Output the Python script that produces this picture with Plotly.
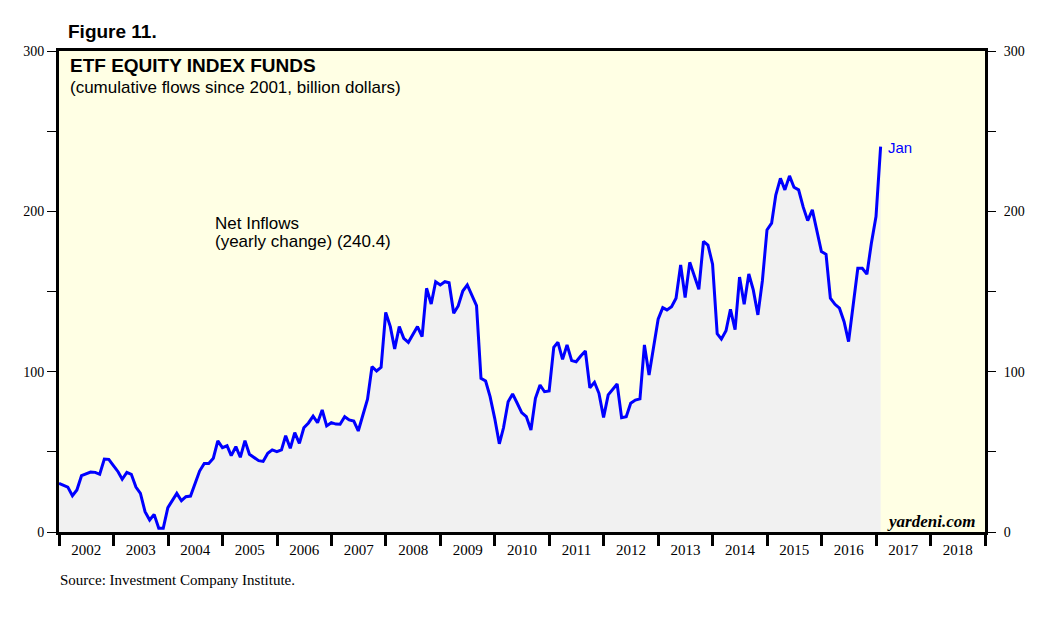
import pandas as pd
import plotly.graph_objects as go

# Monthly observations (month-end), Dec 2001 .. Jan 2017, billion dollars
start_month = "2001-12-31"
net_inflows = [
    30.4, 29.0, 28.0, 22.6, 26.2, 35.1, 36.0, 37.4, 37.2, 36.0, 45.5, 45.3,
    41.4, 37.6, 32.9, 37.2, 36.0, 28.0, 24.1, 12.7, 7.5, 11.0, 2.3, 2.3,
    15.2, 20.0, 24.1, 19.5, 22.0, 22.4, 30.4, 38.0, 42.8, 42.8, 46.0, 56.8,
    52.6, 53.8, 47.6, 53.2, 46.6, 57.0, 48.5, 46.6, 44.5, 44.0, 49.1, 51.2,
    50.1, 51.2, 60.0, 52.2, 62.0, 55.3, 65.0, 68.0, 72.2, 68.2, 76.1, 66.2,
    68.2, 67.3, 67.2, 71.9, 69.9, 69.2, 63.0, 73.0, 82.8, 103.1, 100.4, 102.7,
    137.0, 128.1, 114.2, 128.1, 120.8, 118.3, 123.3, 128.1, 121.8, 152.0, 142.2, 156.1,
    154.1, 156.1, 155.5, 136.4, 141.0, 150.3, 154.1, 147.8, 141.2, 95.9, 94.2, 84.4,
    70.9, 55.0, 65.0, 81.3, 86.1, 80.3, 74.5, 72.0, 63.6, 83.4, 91.7, 87.5,
    88.0, 115.2, 118.3, 107.7, 116.7, 106.9, 106.2, 109.8, 112.9, 90.0, 93.4, 86.5,
    71.5, 85.5, 88.6, 92.3, 71.3, 71.9, 80.3, 82.3, 83.0, 116.7, 97.9, 114.6,
    132.7, 139.9, 138.5, 140.5, 145.8, 166.6, 146.2, 168.2, 159.3, 151.4, 181.3, 179.0,
    167.0, 123.7, 120.3, 125.5, 138.9, 126.2, 159.0, 142.1, 160.9, 151.0, 135.4, 156.6,
    188.4, 192.6, 210.2, 220.6, 213.4, 222.1, 215.0, 213.4, 202.6, 194.2, 200.9, 187.3,
    174.9, 173.2, 145.8, 142.0, 139.6, 131.2, 118.7, 141.6, 164.5, 164.5, 160.8, 180.1,
    196.7, 240.4,
]
dates = pd.date_range(start=start_month, periods=len(net_inflows), freq="ME")

y_tick_vals = [0, 50, 100, 150, 200, 250, 300]
y_tick_text = ["0", "", "100", "", "200", "", "300"]
x_range = ["2001-12-31", "2019-01-01"]

BLUE = "#0000FF"
PLOT_BG = "#FFFFE4"
FILL = "#F1F1F1"
SERIF = "Liberation Serif, Times New Roman, serif"
SANS = "Liberation Sans, Arial, Helvetica, sans-serif"

fig = go.Figure()
fig.add_trace(go.Scatter(
    x=dates, y=net_inflows, mode="lines",
    line=dict(color=BLUE, width=3),
    fill="tozeroy", fillcolor=FILL,
    hoverinfo="x+y", showlegend=False,
))
# invisible trace for right axis
fig.add_trace(go.Scatter(
    x=[dates[0]], y=[net_inflows[0]], yaxis="y2", mode="markers",
    marker=dict(opacity=0), showlegend=False, hoverinfo="skip",
))

fig.update_layout(
    width=1055, height=610,
    margin=dict(l=51, r=78, t=43, b=86),
    paper_bgcolor="white",
    plot_bgcolor=PLOT_BG,
    showlegend=False,
    xaxis=dict(
        type="date", range=x_range,
        tick0="2002-01-01", dtick="M12", tickformat="%Y",
        ticklabelmode="period", ticklabelstandoff=-9,
        ticks="outside", ticklen=11, tickwidth=3, tickcolor="black",
        showgrid=False, zeroline=False,
        showline=True, linewidth=3, linecolor="black", mirror=True,
        tickfont=dict(family=SERIF, size=15, color="black"),
    ),
    yaxis=dict(
        range=[0, 300], tickmode="array", tickvals=y_tick_vals, ticktext=y_tick_text,
        ticks="outside", ticklen=9, tickwidth=1, tickcolor="black",
        showgrid=False, zeroline=False,
        showline=True, linewidth=3, linecolor="black", mirror=True,
        tickfont=dict(family=SERIF, size=14, color="black"),
    ),
    yaxis2=dict(
        range=[0, 300], overlaying="y", side="right",
        tickmode="array", tickvals=y_tick_vals, ticktext=y_tick_text,
        ticks="outside", ticklen=10, tickwidth=1, tickcolor="black",
        ticklabelstandoff=5,
        showgrid=False, zeroline=False, showline=False,
        tickfont=dict(family=SERIF, size=14, color="black"),
    ),
)

W, H = 926.0, 481.0
def px(x, y):
    return (x - 59) / W, (532 - y) / H

annots = [
    ("Figure 11.", 66, 32, dict(family=SANS, size=19, color="black"), True),
    ("ETF EQUITY INDEX FUNDS", 68, 66, dict(family=SANS, size=19, color="black"), True),
    ("(cumulative flows since 2001, billion dollars)", 68, 87, dict(family=SANS, size=17, color="black"), False),
    ("Net Inflows", 213, 223, dict(family=SANS, size=17, color="black"), False),
    ("(yearly change) (240.4)", 213, 242, dict(family=SANS, size=17, color="black"), False),
    ("Jan", 886, 147, dict(family=SANS, size=15, color=BLUE), False),
    ("<b><i>yardeni.com</i></b>", 885, 521, dict(family=SERIF, size=17, color="black"), False),
    ("Source: Investment Company Institute.", 58, 580, dict(family=SERIF, size=15, color="black"), False),
]
for text, x, y, font, bold in annots:
    xp, yp = px(x, y)
    fig.add_annotation(
        text=f"<b>{text}</b>" if bold else text,
        x=xp, y=yp, xref="paper", yref="paper",
        xanchor="left", yanchor="middle", showarrow=False, font=font,
    )

fig.write_html("out.html")
